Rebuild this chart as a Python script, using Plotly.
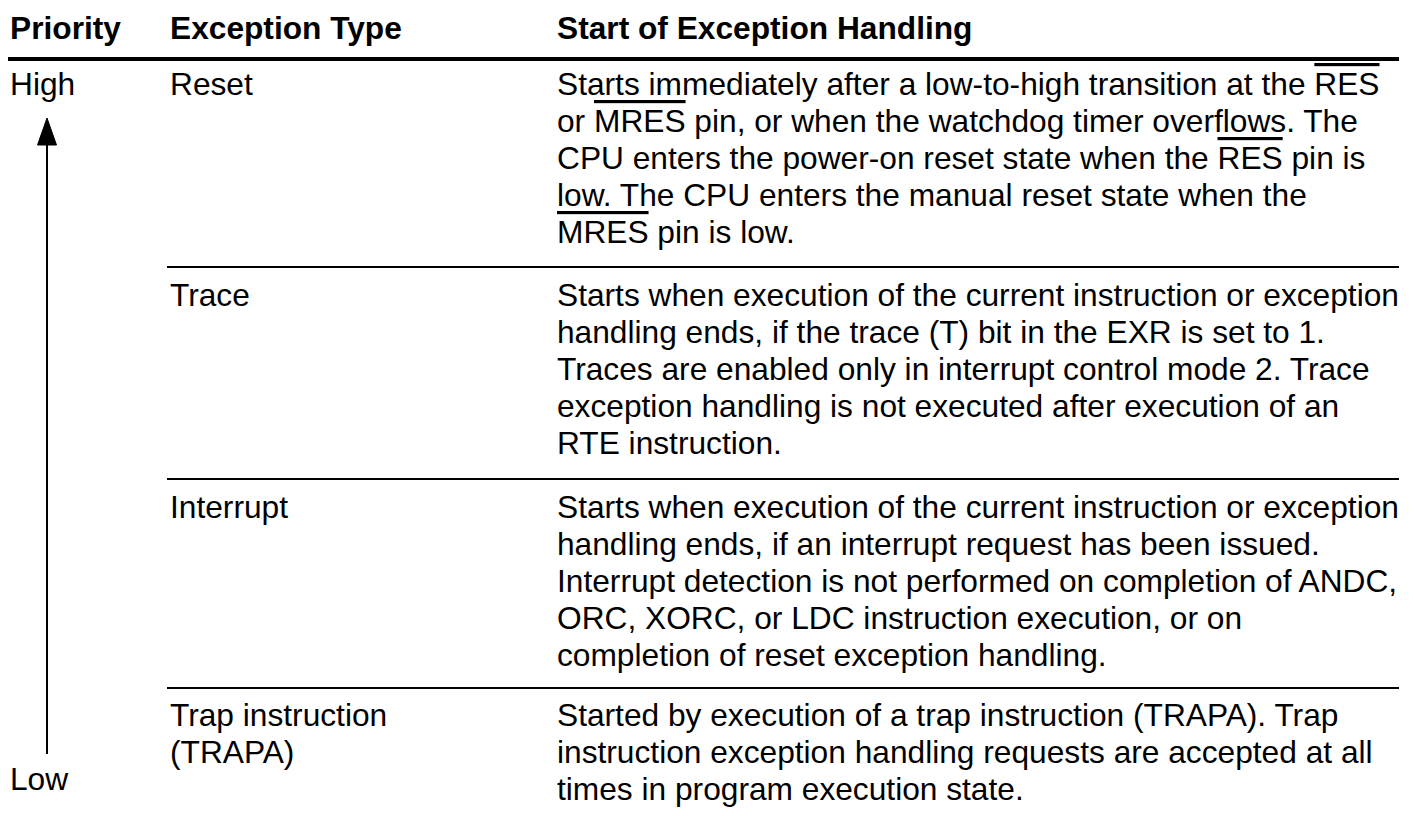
import plotly.graph_objects as go

# ---- content ----
headers = ["Priority", "Exception Type", "Start of Exception Handling"]
priority_labels = ["High", "Low"]
exception_types = [
    ["Reset"],
    ["Trace"],
    ["Interrupt"],
    ["Trap instruction", "(TRAPA)"],
]
OL = '<span style="text-decoration:overline">{}</span>'
descriptions = [
    [
        "Starts immediately after a low-to-high transition at the " + OL.format("RES"),
        "or " + OL.format("MRES") + " pin, or when the watchdog timer overflows. The",
        "CPU enters the power-on reset state when the " + OL.format("RES") + " pin is",
        "low. The CPU enters the manual reset state when the",
        OL.format("MRES") + " pin is low.",
    ],
    [
        "Starts when execution of the current instruction or exception",
        "handling ends, if the trace (T) bit in the EXR is set to 1.",
        "Traces are enabled only in interrupt control mode 2. Trace",
        "exception handling is not executed after execution of an",
        "RTE instruction.",
    ],
    [
        "Starts when execution of the current instruction or exception",
        "handling ends, if an interrupt request has been issued.",
        "Interrupt detection is not performed on completion of ANDC,",
        "ORC, XORC, or LDC instruction execution, or on",
        "completion of reset exception handling.",
    ],
    [
        "Started by execution of a trap instruction (TRAPA). Trap",
        "instruction exception handling requests are accepted at all",
        "times in program execution state.",
    ],
]

# ---- layout (pixel-like coordinates; page body has an 8px margin) ----
W, H = 1414, 816
PAGE_MARGIN = 8
FONT = "Liberation Sans, Arial, sans-serif"
FS = 31.7
col_x = [8, 168, 555]
header_y = 28
row_first_y = [84, 295, 507, 715]
line_step = 36.9
header_rule_y = 59
row_rules_y = [267, 479, 688]
rule_right = 1399

fig = go.Figure()
fig.add_trace(go.Scatter(x=[PAGE_MARGIN, W], y=[PAGE_MARGIN, H], mode="markers",
                         marker=dict(opacity=0), hoverinfo="skip", showlegend=False))

ann = []
for hx, ht in zip(col_x, headers):
    ann.append(dict(x=hx, y=header_y, text="<b>" + ht + "</b>"))

ann.append(dict(x=col_x[0], y=row_first_y[0], text=priority_labels[0]))
ann.append(dict(x=col_x[0], y=779, text=priority_labels[1]))

for r, (types, desc) in enumerate(zip(exception_types, descriptions)):
    for i, t in enumerate(types):
        ann.append(dict(x=col_x[1], y=row_first_y[r] + i * line_step, text=t))
    for i, t in enumerate(desc):
        ann.append(dict(x=col_x[2], y=row_first_y[r] + i * line_step, text=t))

annotations = []
for a in ann:
    a.update(xref="x", yref="y", xanchor="left", yanchor="middle", showarrow=False,
             font=dict(family=FONT, size=FS, color="black"))
    annotations.append(a)

shapes = [
    dict(type="line", xref="x", yref="y", x0=8, x1=rule_right, y0=header_rule_y, y1=header_rule_y,
         line=dict(color="black", width=4)),
]
for ry in row_rules_y:
    shapes.append(dict(type="line", xref="x", yref="y", x0=167, x1=rule_right, y0=ry, y1=ry,
                       line=dict(color="black", width=2)))
# priority arrow
shapes.append(dict(type="line", xref="x", yref="y", x0=47, x1=47, y0=754, y1=140,
                   line=dict(color="black", width=2)))
shapes.append(dict(type="path", xref="x", yref="y", path="M 47 118 L 56.5 145 L 37.5 145 Z",
                   fillcolor="black", line=dict(color="black", width=1)))

fig.update_layout(
    width=W - PAGE_MARGIN, height=H - PAGE_MARGIN, autosize=False,
    margin=dict(l=0, r=0, t=0, b=0),
    paper_bgcolor="white", plot_bgcolor="white",
    xaxis=dict(range=[PAGE_MARGIN, W], visible=False, fixedrange=True),
    yaxis=dict(range=[H, PAGE_MARGIN], visible=False, fixedrange=True),
    annotations=annotations, shapes=shapes, showlegend=False,
)
fig.write_html("out.html")
